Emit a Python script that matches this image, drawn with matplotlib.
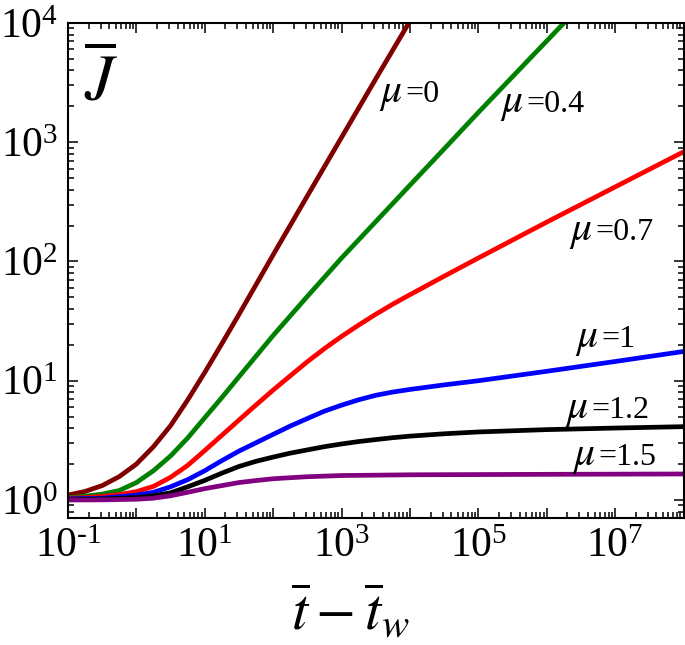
import numpy as np
import matplotlib
matplotlib.use("Agg")
import matplotlib.pyplot as plt
from matplotlib.ticker import LogLocator, NullFormatter

plt.rcParams['font.family'] = 'serif'
plt.rcParams['font.serif'] = ['Liberation Serif', 'DejaVu Serif']
plt.rcParams['mathtext.fontset'] = 'stix'
plt.rcParams['axes.unicode_minus'] = False

# values (t = tbar - tbar_w, J = Jbar)
t_mu0 = [0.1, 0.178, 0.316, 0.562, 1, 1.778, 3.16, 5.62, 10, 17.8, 31.6, 56.2, 100, 316, 1000, 3160, 1e4, 1.26e4]
J_mu0 = [1.1, 1.18, 1.32, 1.57, 2.0, 2.8, 4.2, 6.9, 11.75, 20.5, 36, 64, 114, 355, 1100, 3400, 1.04e4, 1.3e4]

t_mu04 = [0.1, 0.178, 0.316, 0.562, 1, 1.778, 3.16, 5.62, 10, 17.8, 31.6, 100, 316, 1000, 3160,
          1e4, 3.16e4, 1e5, 3.16e5, 1e6, 3.16e6]
J_mu04 = [1.047, 1.076, 1.12, 1.20, 1.40, 1.76, 2.34, 3.31, 4.9, 7.24, 10.8, 24, 51, 107, 216,
          437, 880, 1780, 3550, 7080, 14100]

t_mu07 = [0.1, 0.178, 0.316, 0.562, 1, 1.778, 3.16, 5.62, 10, 17.8, 31.6, 56.2, 100, 177.8, 316, 562,
          1000, 1778, 3160, 5620, 1e4, 3.16e4, 1e5, 1e6, 1e7, 1e8]
J_mu07 = [1.035, 1.047, 1.072, 1.11, 1.175, 1.30, 1.55, 1.95, 2.60, 3.49, 4.68, 6.27, 8.36, 11.0, 14.45, 18.6,
          23.55, 29.3, 36.1, 43.9, 52.7, 75.3, 107, 214, 422, 832]

t_mu1 = [0.1, 0.316, 1, 1.778, 3.16, 5.62, 10, 17.8, 31.6, 56.2, 100, 177.8, 316, 562, 1000, 1778, 3160,
         5620, 1e4, 3.16e4, 1e5, 1e6, 1e7, 1e8]
J_mu1 = [1.023, 1.035, 1.096, 1.16, 1.29, 1.48, 1.76, 2.14, 2.57, 3.02, 3.55, 4.17, 4.82, 5.56, 6.24, 6.92, 7.55,
         8.04, 8.45, 9.23, 10.0, 12.0, 14.5, 17.6]

t_mu12 = [0.1, 0.316, 1, 1.778, 3.16, 5.62, 10, 17.8, 31.6, 56.2, 100, 177.8, 316, 562, 1000, 1778, 3160,
          5620, 1e4, 3.16e4, 1e5, 1e6, 1e7, 1e8]
J_mu12 = [1.012, 1.019, 1.047, 1.084, 1.148, 1.29, 1.46, 1.68, 1.91, 2.11, 2.29, 2.47, 2.63, 2.80, 2.95, 3.09, 3.21,
          3.33, 3.43, 3.59, 3.72, 3.89, 4.01, 4.12]

t_mu15 = [0.1, 0.316, 1, 1.778, 3.16, 5.62, 10, 17.8, 31.6, 56.2, 100, 316, 1000, 1e4, 1e6, 1e8]
J_mu15 = [1.0, 1.002, 1.014, 1.035, 1.084, 1.16, 1.245, 1.32, 1.40, 1.455, 1.507, 1.567, 1.603,
          1.626, 1.641, 1.652]

mu_labels = ['0', '0.4', '0.7', '1', '1.2', '1.5']
colors = ['#800000', '#008000', '#ff0000', '#0000ff', '#000000', '#800080']
curves = [(t_mu0, J_mu0), (t_mu04, J_mu04), (t_mu07, J_mu07),
          (t_mu1, J_mu1), (t_mu12, J_mu12), (t_mu15, J_mu15)]
# where the "=" of each mu label starts, on the text baseline (data coords)
label_pos = [(8.45e3, 2175), (5.07e5, 1803), (5.07e6, 151), (6.3e6, 19.3), (4.53e6, 4.84), (5.66e6, 1.966)]

fig = plt.figure(figsize=(6.85, 6.45), dpi=100)
ax = fig.add_axes([68/685, 1 - 518/645, (683.6 - 68)/685, (518 - 23)/645])

for (t, J), c in zip(curves, colors):
    ax.plot(t, J, color=c, lw=3.4, solid_capstyle='butt', solid_joinstyle='round')

for lab, (x, y) in zip(mu_labels, label_pos):
    ax.annotate('=' + lab, xy=(x, y), ha='left', va='baseline', fontsize=23)
    ax.annotate(r'$\mu$', xy=(x, y), xytext=(-2, 0), textcoords='offset points',
                ha='right', va='baseline', fontsize=30)

ax.set_xscale('log')
ax.set_yscale('log')
ax.set_xlim(0.1, 1e8)
ax.set_ylim(0.706, 1e4)

ax.xaxis.set_minor_locator(LogLocator(base=10, subs=np.arange(2, 10), numticks=100))
ax.yaxis.set_minor_locator(LogLocator(base=10, subs=np.arange(2, 10), numticks=100))
ax.yaxis.set_minor_formatter(NullFormatter())
ax.xaxis.set_minor_formatter(NullFormatter())

xmaj = [10.0**k for k in range(-1, 9)]
xlab = {-1: '\u2010' + '1', 1: '1', 3: '3', 5: '5', 7: '7'}
ax.set_xticks(xmaj)
ax.set_xticklabels([r'$\mathdefault{10^{%s}}$' % xlab[k] if k in xlab else '' for k in range(-1, 9)])
ax.set_yticks([1, 10, 100, 1e3, 1e4])
ax.set_yticklabels([r'$\mathdefault{10^{%d}}$' % k for k in range(5)])

ax.tick_params(which='both', direction='in', top=True, right=True, width=1.1, labelsize=30)
ax.tick_params(which='major', length=7, pad=7)
ax.tick_params(which='minor', length=4.3)
for s in ax.spines.values():
    s.set_linewidth(1.5)

fig.text(101/685, 1 - 83/645, r'$\overline{J}$', fontsize=47, ha='center', va='center')
fig.text(350/685, 1 - 630/645, r'$\overline{t}-\overline{t}_w$', fontsize=42, ha='center', va='baseline')

fig.savefig('out.png', dpi=100)
